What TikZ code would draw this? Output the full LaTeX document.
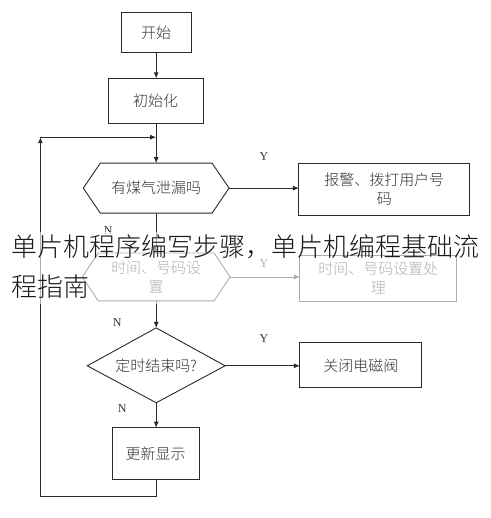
\documentclass[tikz,border=0pt]{standalone}
\usepackage{fontspec}
\setmainfont{Liberation Serif}
\newfontfamily\cjk{Noto Sans CJK SC}
\newfontfamily\cjklight{Noto Sans CJK SC Light}
\usetikzlibrary{arrows.meta,shapes.geometric}
\definecolor{ink}{HTML}{2A2A2A}
\definecolor{txt}{HTML}{333333}
\tikzset{
  x=1pt,y=-1pt,
  every path/.style={draw=ink,line width=0.9pt},
  arr/.style={-{Latex[length=6pt,width=5pt]}},
  boxtxt/.style={font=\cjklight\fontsize{15}{19}\selectfont,text=txt,align=center},
  lab/.style={font=\fontsize{12}{14}\selectfont,text=txt},
}
\begin{document}
\begin{tikzpicture}
\useasboundingbox (0,0) rectangle (490,518);
\fill[white] (0,0) rectangle (490,518);
% boxes
\draw (121,12) rectangle (191,52);
\node[boxtxt] (start) at (156,32) {开始};
\draw (108,78) rectangle (203,123);
\node[boxtxt] (init) at (155.5,100.5) {初始化};
\draw (83,188) -- (100,163) -- (212,163) -- (229,188) -- (212,213) -- (100,213) -- cycle;
\node[boxtxt] (gas) at (156,188) {有煤气泄漏吗};
\draw (299,163) rectangle (470,215);
\node[boxtxt] (alarm) at (384.5,189) {报警、拨打用户号\\码};
\draw (82,277) -- (98,253) -- (214,253) -- (230,277) -- (214,301) -- (98,301) -- cycle;
\node[boxtxt] (set) at (156,277) {时间、号码设\\置};
\draw (300,255) rectangle (457,302);
\node[boxtxt] (proc) at (378.5,278.5) {时间、号码设置处\\理};
\draw (156,328) -- (225,366) -- (156,403) -- (87,366) -- cycle;
\node[boxtxt] (timer) at (156,366) {定时结束吗?};
\draw (300,343) rectangle (422,388);
\node[boxtxt] (close) at (361,365.5) {关闭电磁阀};
\draw (112,428) rectangle (199,480);
\node[boxtxt] (upd) at (155.5,454) {更新显示};
% connectors
\coordinate (a1) at (156,52);
\coordinate (a2) at (156,78);
\draw[arr] (a1) -- (a2);
\coordinate (b1) at (156,123);
\coordinate (b2) at (156,163);
\draw[arr] (b1) -- (b2);
\coordinate (g1) at (229,188);
\coordinate (g2) at (299,188);
\draw[arr] (g1) -- (g2);
\node[lab] (y1) at (264,156) {Y};
\coordinate (c1) at (156,213);
\coordinate (c2) at (156,253);
\draw[arr] (c1) -- (c2);
\node[lab] (n1) at (108,231) {N};
\coordinate (s1) at (230,277);
\coordinate (s2) at (300,277);
\draw[arr] (s1) -- (s2);
\node[lab] (y2) at (264,264) {Y};
\coordinate (d1) at (156,301);
\coordinate (d2) at (156,328);
\draw[arr] (d1) -- (d2);
\node[lab] (n2) at (117,323) {N};
\coordinate (t1) at (225,366);
\coordinate (t2) at (300,366);
\draw[arr] (t1) -- (t2);
\node[lab] (y3) at (264,339) {Y};
\coordinate (e1) at (156,403);
\coordinate (e2) at (156,428);
\draw[arr] (e1) -- (e2);
\node[lab] (n3) at (122,409) {N};
% loop
\coordinate (u1) at (156,480);
\coordinate (u2) at (156,497);
\coordinate (u3) at (40,497);
\coordinate (u4) at (40,137);
\coordinate (u5) at (156,137);
\draw[arr] (u1) -- (u2) -- (u3) -- (u4);
\draw[arr] (u4) -- (u5);
% translucent band with overlay caption
\fill[white,fill opacity=0.62,draw=none] (0,232) rectangle (490,304);
\node[font=\cjklight\fontsize{26}{39.5}\selectfont,text=black!90,anchor=north west,align=left,inner sep=0pt] (cap) at (11,234.5)
  {单片机程序编写步骤，单片机编程基础流\\程指南};
\end{tikzpicture}
\end{document}
